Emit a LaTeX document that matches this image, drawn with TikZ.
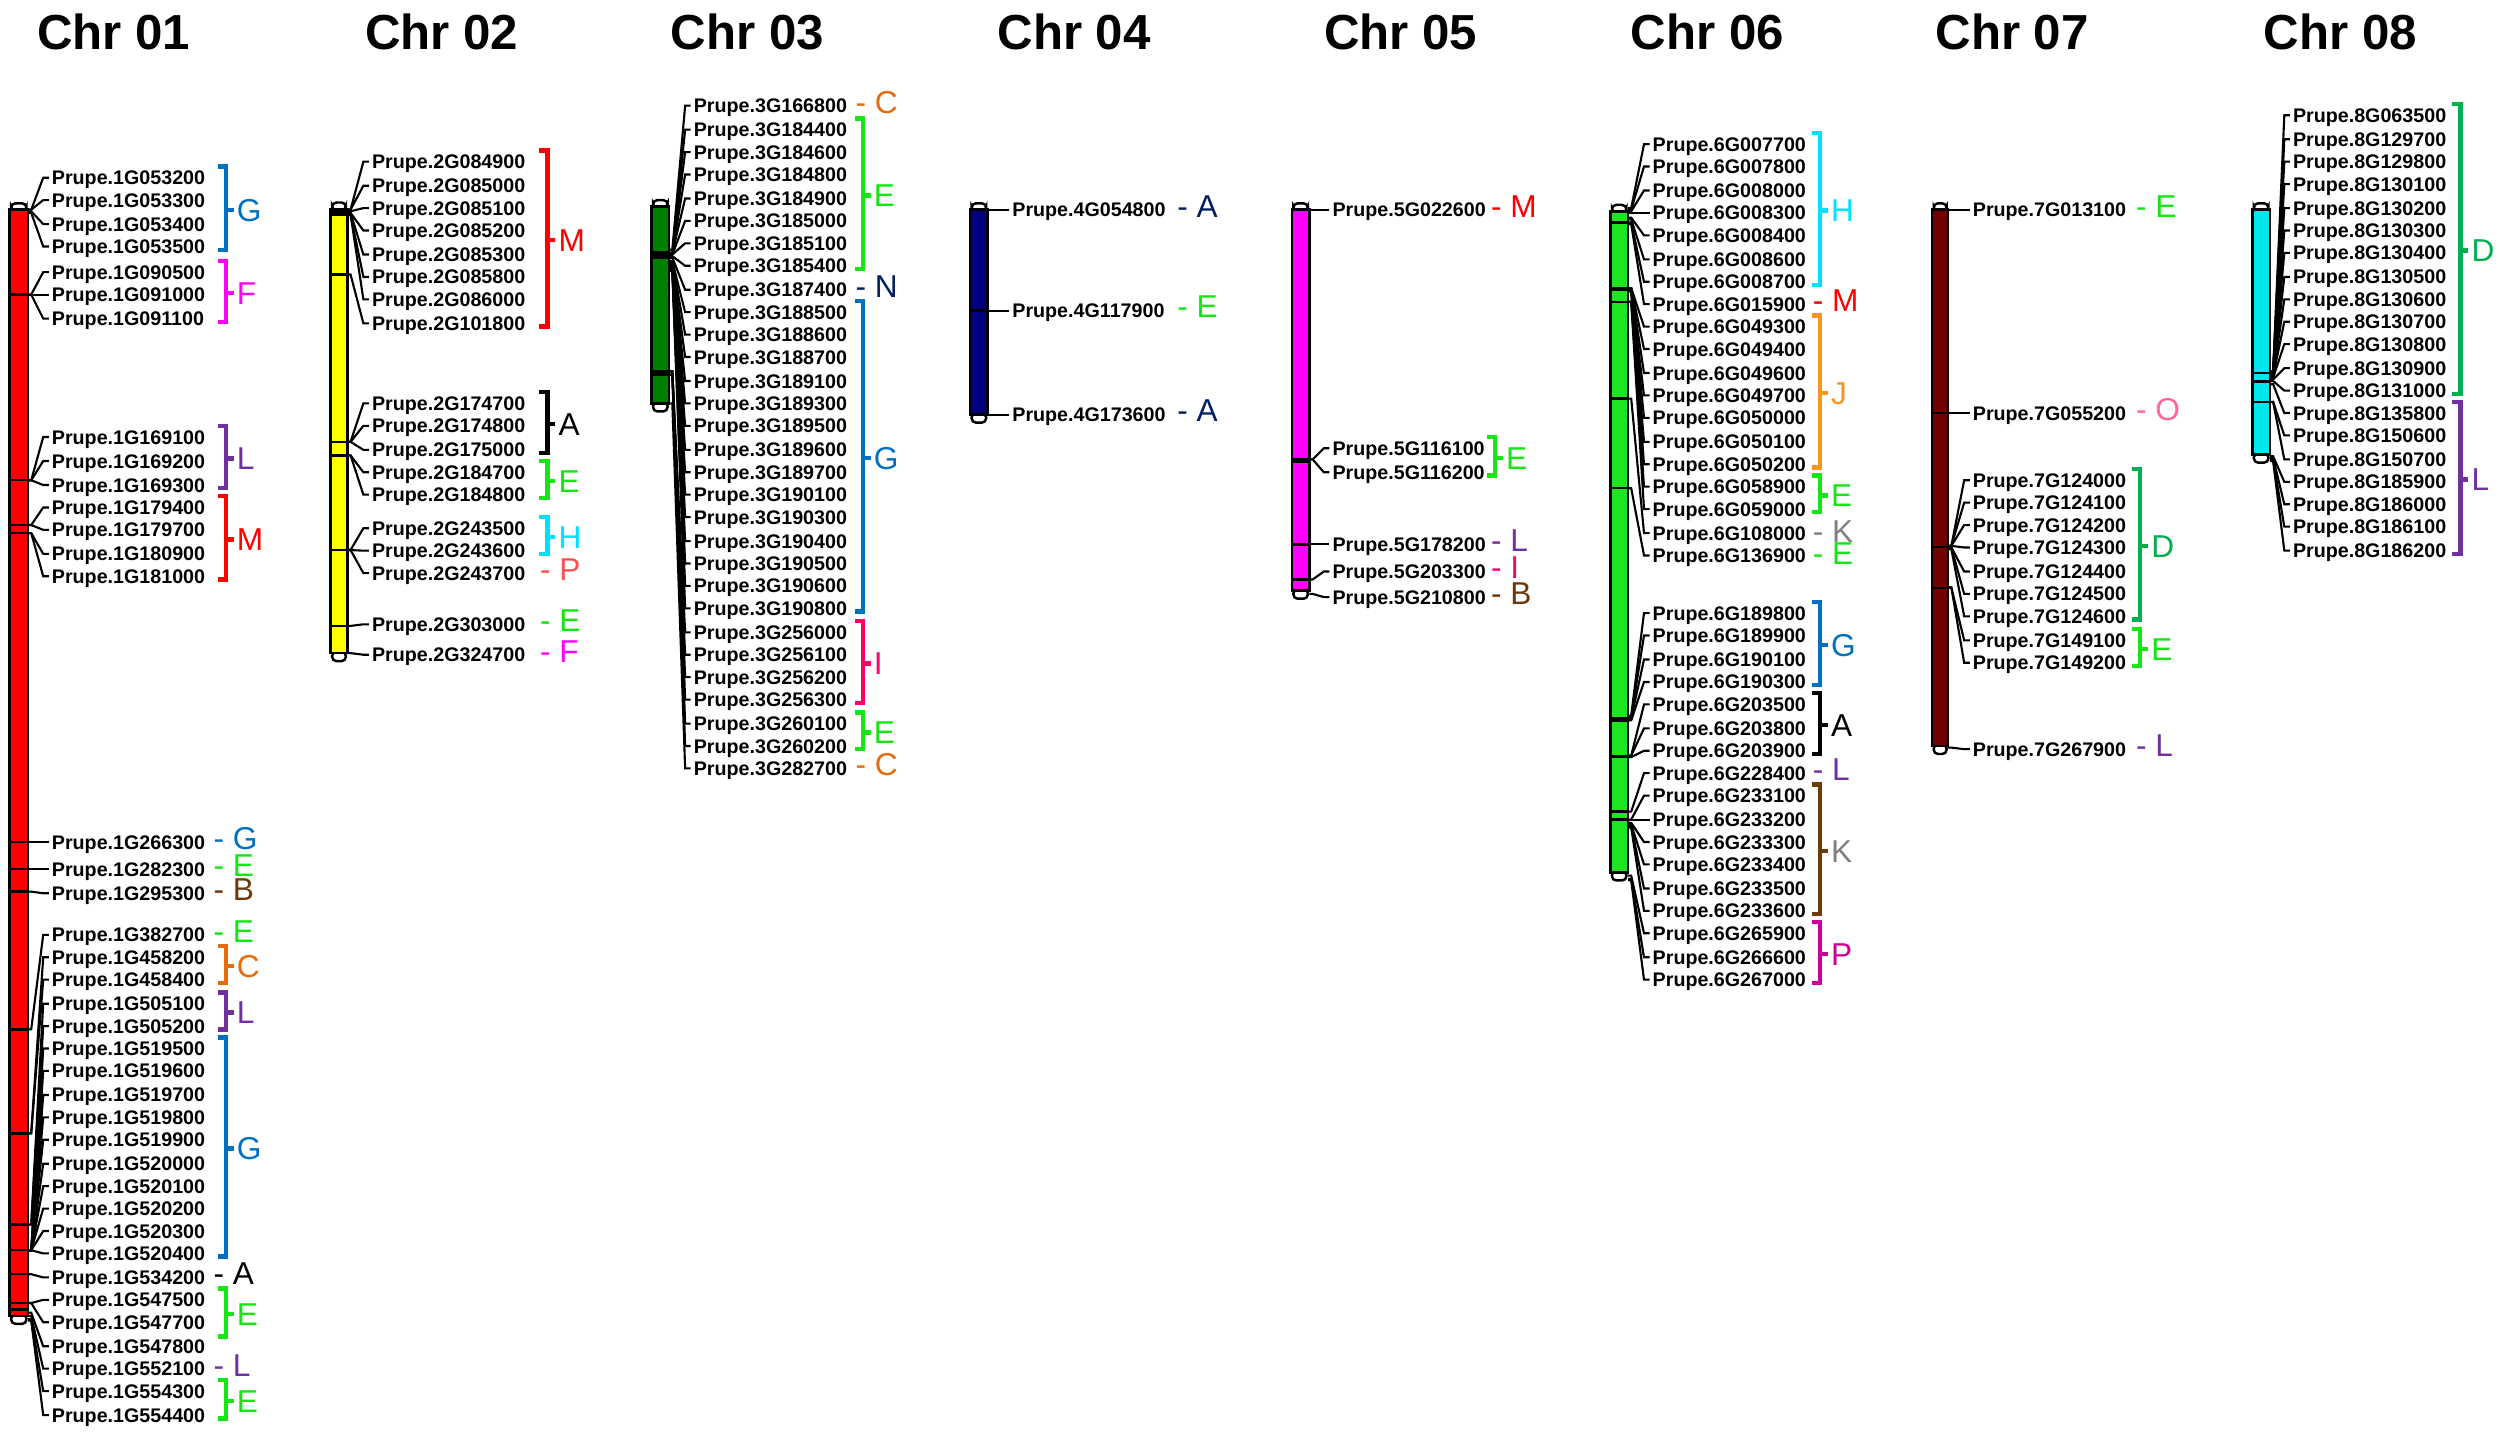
\documentclass[tikz,border=0pt]{standalone}
\usepackage{fontspec}
\setmainfont{Liberation Sans}
\definecolor{cG}{RGB}{0,112,192}
\definecolor{cE}{RGB}{20,230,20}
\definecolor{cF}{RGB}{255,0,255}
\definecolor{cL}{RGB}{112,48,160}
\definecolor{cM}{RGB}{255,0,0}
\definecolor{cB}{RGB}{110,55,10}
\definecolor{cC}{RGB}{228,108,10}
\definecolor{cH}{RGB}{0,225,255}
\definecolor{cP}{RGB}{255,80,80}
\definecolor{cPm}{RGB}{204,0,153}
\definecolor{cN}{RGB}{0,32,96}
\definecolor{cI}{RGB}{255,0,102}
\definecolor{cJ}{RGB}{247,150,30}
\definecolor{cK}{RGB}{128,128,128}
\definecolor{cKb}{RGB}{110,60,10}
\definecolor{cO}{RGB}{255,102,153}
\definecolor{cD}{RGB}{0,176,80}
\definecolor{chA}{RGB}{255,0,0}
\definecolor{chB}{RGB}{255,255,0}
\definecolor{chC}{RGB}{0,128,0}
\definecolor{chD}{RGB}{0,0,128}
\definecolor{chE}{RGB}{255,0,255}
\definecolor{chF}{RGB}{30,230,30}
\definecolor{chG}{RGB}{115,0,0}
\definecolor{chH}{RGB}{0,230,240}
\newcommand{\chrom}[5]{%
  \draw[barst,fill=white,rounded corners=1.2pt] ({#1+1},{#3+1}) rectangle ({#2-1},{#3-4});
  \draw[barst,fill=white,rounded corners=1.2pt] ({#1+1},{#4-1}) rectangle ({#2-1},{#4+5});
  \draw[barst,fill=#5] (#1,#3) rectangle (#2,#4);
}
\newcommand{\chrmarks}[3]{\foreach \y in {#3} {\draw[markst] (#1,\y) -- (#2,\y);}}
\newcommand{\genes}[4]{%
  \foreach \yl/\yg/\id in {#4} {
    \node[genelab] (c#1-\id) at (#3,\yl) {Prupe.#1G\id};
    \coordinate (p#1-\id) at (#2,\yg);
    \draw[conn] (p#1-\id) -- ++(2,0) -- ([xshift=-0.08cm]c#1-\id.west) -- ([xshift=-0.024cm]c#1-\id.west);
  }
}
\newcommand{\brk}[6]{%
  \draw[brst,draw=#4] ({#1-5},{#2-7}) -- (#1,{#2-7}) -- (#1,{#3+2}) -- ({#1-5},{#3+2});
  \draw[brst,draw=#4] (#1,{(#2+#3)/2-1.5}) -- ({#1+5},{(#2+#3)/2-1.5});
  \node[grp,text=#6] (b#1-#2) at ({#1+6.5},{(#2+#3)/2-1}) {#5};
}
\newcommand{\sgl}[4]{\node[grp,text=#3] (s#1-#2) at (#1,{#2-2}) {- #4};}
\begin{document}
\begin{tikzpicture}[x=0.016008cm,y=-0.016008cm,
  genelab/.style={font=\fontsize{5.6}{6}\selectfont\bfseries, inner sep=0pt, anchor=west, text height=4.0pt, text depth=0pt},
  conn/.style={line width=0.6pt, draw=black},
  brst/.style={line width=1.25pt},
  grp/.style={font=\fontsize{9}{9}\selectfont, inner sep=0pt, anchor=west, text height=6.0pt, text depth=0pt},
  title/.style={font=\fontsize{14}{16}\selectfont\bfseries, inner sep=0pt, text height=10pt, text depth=0pt},
  barst/.style={line width=0.7pt, draw=black},
  markst/.style={line width=0.7pt, draw=black}]
\useasboundingbox (0,0) rectangle (1568,899);
\fill[white] (0,0) rectangle (1568,899);
% titles
\node[title] (t1) at (71,20) {Chr 01};
\node[title] (t2) at (276,20) {Chr 02};
\node[title] (t3) at (467,20) {Chr 03};
\node[title] (t4) at (671,20) {Chr 04};
\node[title] (t5) at (875,20) {Chr 05};
\node[title] (t6) at (1066.5,20) {Chr 06};
\node[title] (t7) at (1257,20) {Chr 07};
\node[title] (t8) at (1462,20) {Chr 08};
% ---------------- Chr 01
\chrom{6}{17.5}{131}{822}{chA}
\chrmarks{6}{17.5}{184,300,328,333,526,543,557,643,708,765,781,796,814,818}
\genes{1}{17.5}{32}{111/131/053200,125/131/053300,140/132/053400,154/133/053500,
170/184/090500,184/184/091000,199/184/091100,273/300/169100,288/300/169200,303/300/169300,
317/328/179400,331/328/179700,346/333/180900,360/333/181000,526/526/266300,543/543/282300,
558/557/295300,584/643/382700,598/708/458200,612/708/458400,627/765/505100,641/765/505200,
655/781/519500,669/781/519600,684/781/519700,698/781/519800,712/781/519900,727/781/520000,
741/781/520100,755/781/520200,769/781/520300,783/781/520400,798/796/534200,812/814/547500,
826/814/547700,841/820/547800,855/822/552100,869/824/554300,884/825/554400}
\brk{141}{111}{154}{cG}{G}{cG}
\brk{141}{170}{199}{cF}{F}{cF}
\brk{141}{273}{303}{cL}{L}{cL}
\brk{141}{317}{360}{cM}{M}{cM}
\sgl{133}{526}{cG}{G}
\sgl{133}{543}{cE}{E}
\sgl{133}{558}{cB}{B}
\sgl{133}{584}{cE}{E}
\brk{141}{598}{612}{cC}{C}{cC}
\brk{141}{627}{641}{cL}{L}{cL}
\brk{141}{655}{783}{cG}{G}{cG}
\sgl{133}{798}{black}{A}
\brk{141}{812}{833}{cE}{E}{cE}
\sgl{133}{855}{cL}{L}
\brk{141}{869}{884}{cE}{E}{cE}
% ---------------- Chr 02
\chrom{206.5}{217}{130.5}{408}{chB}
\fill[black] (206.5,130.5) rectangle (217,135);
\chrmarks{206.5}{217}{171.5,276,284.5,343.6,391}
\genes{2}{217}{232}{101/131/084900,116/131/085000,130/132/085100,144/133/085200,159/133/085300,
173/134/085800,187/134/086000,202/171.5/101800,252/276/174700,266/276/174800,281/276/175000,
295/284.5/184700,309/284.5/184800,330/343.6/243500,344/343.6/243600,358/343.6/243700,
390/391/303000,409/408/324700}
\brk{342}{101}{202}{cM}{M}{cM}
\brk{342}{252}{281}{black}{A}{black}
\brk{342}{295}{309}{cE}{E}{cE}
\brk{342}{330}{344}{cH}{H}{cH}
\sgl{337}{358}{cP}{P}
\sgl{337}{390}{cE}{E}
\sgl{337}{409}{cF}{F}
% ---------------- Chr 03
\chrom{407}{418}{129}{252}{chC}
\fill[black] (407,157) rectangle (418,162);
\chrmarks{407}{418}{232,234}
\genes{3}{418}{433}{66/156/166800,81/158/184400,95/158/184600,109/158/184800,124/158/184900,
138/159/185000,152/159/185100,166/160/185400,181/161/187400,195/163/188500,209/163/188600,
223/164/188700,238/164/189100,252/165/189300,266/165/189500,281/166/189600,295/166/189700,
309/167/190100,323/167/190300,338/168/190400,352/168/190500,366/169/190600,380/169/190800,
395/232/256000,409/232/256100,423/232/256200,437/232/256300,452/234/260100,466/234/260200,
480/252/282700}
\sgl{534}{66}{cC}{C}
\brk{539}{81}{166}{cE}{E}{cE}
\sgl{534}{181}{cN}{N}
\brk{539}{195}{380}{cG}{G}{cG}
\brk{539}{395}{437}{cI}{I}{cI}
\brk{539}{452}{466}{cE}{E}{cE}
\sgl{534}{480}{cC}{C}
% ---------------- Chr 04
\chrom{606}{617}{131}{259}{chD}
\chrmarks{606}{617}{194}
\genes{4}{617}{632}{131/131/054800,194/194/117900,259/259/173600}
\sgl{735}{131}{cN}{A}
\sgl{735}{194}{cE}{E}
\sgl{735}{259}{cN}{A}
% ---------------- Chr 05
\chrom{807}{818}{131}{369}{chE}
\fill[black] (807,286) rectangle (818,289);
\chrmarks{807}{818}{340,362}
\genes{5}{818}{832}{131/131/022600,280/287/116100,295/287/116200,340/340/178200,357/362/203300,373/371/210800}
\sgl{931}{131}{cM}{M}
\brk{934}{280}{295}{cE}{E}{cE}
\sgl{931}{340}{cL}{L}
\sgl{931}{357}{cI}{I}
\sgl{931}{373}{cB}{B}
% ---------------- Chr 06
\chrom{1006}{1017}{132}{545}{chF}
\fill[black] (1006,179) rectangle (1017,182);
\fill[black] (1006,448) rectangle (1017,451);
\chrmarks{1006}{1017}{139,188.5,249,305,472.7,507,512}
\genes{6}{1017}{1032}{90/130/007700,104/131/007800,119/132/008000,133/133/008300,147/136/008400,
162/137/008600,176/139/008700,190/140/015900,204/180/049300,218/180/049400,233/180/049600,
247/181/049700,261/181/050000,276/182/050100,290/182/050200,304/188.5/058900,318/188.5/059000,
333/249/108000,347/305/136900,383/447/189800,397/448/189900,412/449/190100,426/450/190300,
440/472/203500,455/472/203800,469/473/203900,483/507/228400,497/512/233100,512/512/233200,
526/514/233300,540/515/233400,555/516/233500,569/517/233600,583/547/265900,598/549/266600,
612/550/267000}
\brk{1137}{90}{176}{cH}{H}{cH}
\sgl{1132}{190}{cM}{M}
\brk{1137}{204}{290}{cJ}{J}{cJ}
\brk{1137}{304}{318}{cE}{E}{cE}
\sgl{1132}{334}{cK}{K}
\sgl{1132}{348}{cE}{E}
\brk{1137}{383}{426}{cG}{G}{cG}
\brk{1137}{440}{469}{black}{A}{black}
\sgl{1132}{483}{cL}{L}
\brk{1137}{497}{569}{cKb}{K}{cK}
\brk{1137}{583}{612}{cPm}{P}{cPm}
% ---------------- Chr 07
\chrom{1207}{1217}{131}{466}{chG}
\chrmarks{1207}{1217}{258,341.6,367.4}
\genes{7}{1217}{1232}{131/131/013100,258/258/055200,300/341/124000,314/341/124100,328/341/124200,
342/341/124300,357/342/124400,371/342/124500,385/343/124600,400/367/149100,414/367/149200,
468/467/267900}
\sgl{1334}{131}{cE}{E}
\sgl{1334}{258}{cO}{O}
\brk{1337}{300}{385}{cD}{D}{cD}
\brk{1337}{400}{414}{cE}{E}{cE}
\sgl{1334}{468}{cL}{L}
% ---------------- Chr 08
\chrom{1407}{1418}{131}{284}{chH}
\chrmarks{1407}{1418}{233,238.4,251}
\genes{8}{1418}{1432}{72/232/063500,87/232/129700,101/232/129800,115/233/130100,130/233/130200,
144/233/130300,158/234/130400,173/234/130500,187/235/130600,201/235/130700,215/236/130800,
230/237/130900,244/238/131000,258/240/135800,272/251/150600,287/251/150700,301/285/185900,
315/286/186000,329/287/186100,344/288/186200}
\brk{1537}{72}{244}{cD}{D}{cD}
\brk{1537}{258}{344}{cL}{L}{cL}
\end{tikzpicture}
\end{document}
